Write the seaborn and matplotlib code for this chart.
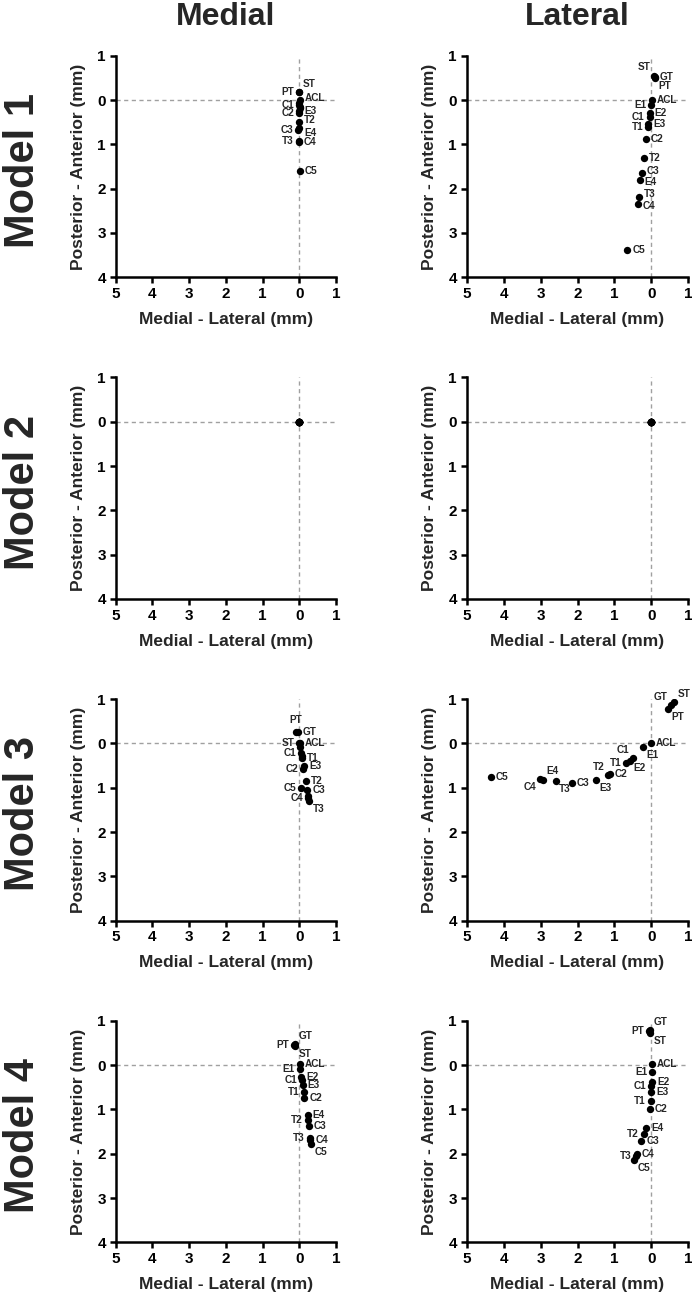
import matplotlib
matplotlib.use("Agg")
import matplotlib.pyplot as plt
from matplotlib.ticker import FuncFormatter
import seaborn as sns
import pandas as pd

# ---------------- data (mm); x: medial(-)/lateral(+), y: posterior(-)/anterior(+)
row_titles = ["Model 1", "Model 2", "Model 3", "Model 4"]
col_titles = ["Medial", "Lateral"]

m1_med_names = ["ST", "PT", "ACL", "E1", "C1", "E2", "E3", "T1", "C2", "T2", "E4", "C3", "T3", "C4", "C5"]
m1_med_x = [0.00, -0.02, 0.02, 0.00, 0.00, 0.02, 0.01, 0.00, -0.01, 0.00, 0.00, -0.03, -0.02, -0.01, 0.02]
m1_med_y = [0.17, 0.17, 0.00, -0.06, -0.12, -0.16, -0.19, -0.25, -0.30, -0.50, -0.64, -0.68, -0.92, -0.95, -1.60]

m1_lat_names = ["ST", "GT", "PT", "ACL", "E1", "E2", "C1", "E3", "T1", "C2", "T2", "C3", "E4", "T3", "C4", "C5"]
m1_lat_x = [0.07, 0.10, 0.09, 0.02, 0.00, -0.04, -0.05, -0.08, -0.09, -0.14, -0.21, -0.25, -0.31, -0.34, -0.37, -0.65]
m1_lat_y = [0.55, 0.53, 0.50, 0.00, -0.11, -0.30, -0.39, -0.55, -0.62, -0.87, -1.31, -1.65, -1.80, -2.18, -2.35, -3.38]

m2_names = ["ST", "GT", "PT", "ACL", "E1", "E2", "C1", "E3", "T1", "C2", "T2", "C3", "E4", "T3", "C4", "C5"]
m2_med_x = [0.0] * 16
m2_med_y = [0.0] * 16
m2_lat_x = [0.0] * 16
m2_lat_y = [0.0] * 16

m3_med_names = ["PT", "GT", "ST", "ACL", "E1", "C1", "E2", "T1", "E3", "C2", "T2", "C5", "C3", "E4", "C4", "T3"]
m3_med_x = [-0.10, -0.04, 0.00, 0.02, 0.01, 0.05, 0.07, 0.08, 0.13, 0.11, 0.18, 0.06, 0.22, 0.24, 0.25, 0.27]
m3_med_y = [0.26, 0.26, 0.02, 0.00, -0.08, -0.22, -0.28, -0.33, -0.52, -0.57, -0.85, -1.01, -1.06, -1.18, -1.24, -1.31]

m3_lat_names = ["PT", "GT", "ST", "ACL", "E1", "C1", "E2", "T1", "T2", "C2", "E3", "C3", "T3", "E4", "C4", "C5"]
m3_lat_x = [0.45, 0.52, 0.62, 0.00, -0.24, -0.51, -0.58, -0.69, -1.17, -1.13, -1.49, -2.16, -2.59, -2.94, -3.01, -4.34]
m3_lat_y = [0.78, 0.86, 0.93, 0.00, -0.09, -0.33, -0.39, -0.45, -0.72, -0.70, -0.82, -0.89, -0.86, -0.82, -0.81, -0.75]

m4_med_names = ["GT", "PT", "ST", "ACL", "E1", "E2", "C1", "E3", "T1", "C2", "E4", "T2", "C3", "T3", "C4", "C5"]
m4_med_x = [-0.12, -0.14, -0.12, 0.01, 0.01, 0.06, 0.07, 0.10, 0.13, 0.14, 0.23, 0.23, 0.26, 0.28, 0.30, 0.31]
m4_med_y = [0.47, 0.45, 0.43, 0.02, -0.08, -0.26, -0.34, -0.44, -0.60, -0.75, -1.13, -1.23, -1.38, -1.64, -1.70, -1.79]

m4_lat_names = ["GT", "PT", "ST", "ACL", "E1", "E2", "C1", "E3", "T1", "C2", "E4", "T2", "C3", "C4", "T3", "C5"]
m4_lat_x = [-0.04, -0.06, -0.04, 0.02, 0.02, 0.02, 0.00, 0.00, -0.02, -0.05, -0.14, -0.21, -0.27, -0.39, -0.41, -0.46]
m4_lat_y = [0.79, 0.76, 0.72, 0.02, -0.15, -0.38, -0.48, -0.60, -0.82, -1.00, -1.43, -1.56, -1.72, -2.00, -2.06, -2.14]

x_ticks = [-5, -4, -3, -2, -1, 0, 1]
y_ticks = [-4, -3, -2, -1, 0, 1]

# ---------------- label placement (style only): direction codes
place = {
    (0, 0): {"ST": "ur", "PT": "l", "ACL": "ru", "C1": "l", "E3": "rd", "C2": "l", "T2": "ru",
             "E4": "rd2", "C3": "l", "T3": "l", "C4": "r", "C5": "r"},
    (0, 1): {"ST": "ul", "GT": "r", "PT": "br", "ACL": "r", "E1": "l", "E2": "r", "C1": "l",
             "E3": "r", "T1": "l", "C2": "r", "T2": "r", "C3": "ru", "E4": "rd", "T3": "ru",
             "C4": "rd", "C5": "r"},
    (1, 0): {},
    (1, 1): {},
    (2, 0): {"PT": "u", "GT": "r", "ST": "l", "ACL": "r", "C1": "l", "T1": "r", "E3": "r",
             "C2": "l", "T2": "r", "C5": "l", "C3": "r", "C4": "l", "T3": "br"},
    (2, 1): {"PT": "br", "GT": "ul", "ST": "ur", "ACL": "r", "E1": "br", "C1": "ul", "E2": "br",
             "T1": "l", "T2": "ul", "C2": "r", "E3": "br", "C3": "r", "T3": "br", "E4": "ur",
             "C4": "bl", "C5": "r"},
    (3, 0): {"GT": "ur", "PT": "l", "ST": "br", "ACL": "r", "E1": "l", "E2": "r", "C1": "l",
             "E3": "r", "T1": "l", "C2": "r", "E4": "r", "T2": "l", "C3": "r", "T3": "l",
             "C4": "r", "C5": "br"},
    (3, 1): {"GT": "ur", "PT": "l", "ST": "br", "ACL": "r", "E1": "l", "E2": "r", "C1": "l",
             "E3": "r", "T1": "l", "C2": "r", "E4": "r", "T2": "l", "C3": "r", "C4": "r",
             "T3": "l", "C5": "br"},
}
offsets = {
    "r": ((3.5, 0), "left", "center"),
    "ru": ((3.5, 1.5), "left", "center"),
    "rd": ((3.5, -1.5), "left", "center"),
    "rd2": ((3.5, -3), "left", "center"),
    "l": ((-3.5, 0), "right", "center"),
    "u": ((0, 5), "center", "bottom"),
    "ur": ((2.5, 2.5), "left", "bottom"),
    "ul": ((-2.5, 2.5), "right", "bottom"),
    "br": ((2.5, -2), "left", "top"),
    "bl": ((-2.5, -2), "right", "top"),
}

panels = {
    (0, 0): (m1_med_names, m1_med_x, m1_med_y),
    (0, 1): (m1_lat_names, m1_lat_x, m1_lat_y),
    (1, 0): (m2_names, m2_med_x, m2_med_y),
    (1, 1): (m2_names, m2_lat_x, m2_lat_y),
    (2, 0): (m3_med_names, m3_med_x, m3_med_y),
    (2, 1): (m3_lat_names, m3_lat_x, m3_lat_y),
    (3, 0): (m4_med_names, m4_med_x, m4_med_y),
    (3, 1): (m4_lat_names, m4_lat_x, m4_lat_y),
}

# ---------------- style
sns.set_style("ticks")
plt.rcParams["font.family"] = ["Liberation Sans", "DejaVu Sans"]
plt.rcParams["font.weight"] = "bold"
plt.rcParams["axes.labelweight"] = "bold"

W, H = 692, 1300
fig = plt.figure(figsize=(W / 100, H / 100), dpi=100)

col_left_px = [115.7, 466.7]
col_width_px = [220.3, 221.6]
row_zero_px = [100 + 321.7 * i for i in range(4)]
unit_y_px = 44.3

fmt = FuncFormatter(lambda v, p: f"{abs(v):g}")

for (r, c), (names, xs, ys) in panels.items():
    top_px = row_zero_px[r] - unit_y_px
    bot_px = row_zero_px[r] + 4 * unit_y_px
    ax = fig.add_axes([col_left_px[c] / W, 1 - bot_px / H,
                       col_width_px[c] / W, (bot_px - top_px) / H])
    ax.axhline(0, color="#a0a0a0", lw=1.0, ls=(0, (3, 2.5)), zorder=1)
    ax.axvline(0, color="#a0a0a0", lw=1.0, ls=(0, (3, 2.5)), zorder=1)
    df = pd.DataFrame({"name": names, "x": xs, "y": ys})
    sns.scatterplot(data=df, x="x", y="y", ax=ax, color="black", s=28,
                    linewidth=0, zorder=3, legend=False)
    for n, xv, yv in zip(names, xs, ys):
        code = place[(r, c)].get(n)
        if code is None:
            continue
        off, ha, va = offsets[code]
        ax.annotate(n, (xv, yv), xytext=off, textcoords="offset points",
                    ha=ha, va=va, fontsize=7.2, fontweight="bold", zorder=4)
    ax.set_xlim(-5, 1)
    ax.set_ylim(-4, 1)
    ax.set_xticks(x_ticks)
    ax.set_yticks(y_ticks)
    ax.xaxis.set_major_formatter(fmt)
    ax.yaxis.set_major_formatter(fmt)
    for s in ("top", "right"):
        ax.spines[s].set_visible(False)
    for s in ("left", "bottom"):
        ax.spines[s].set_linewidth(1.8)
        ax.spines[s].set_color("black")
        ax.spines[s].set_capstyle("projecting")
    ax.tick_params(axis="both", direction="out", length=4.5, width=1.8,
                   labelsize=11, colors="black", pad=2.5)
    for lab in ax.get_xticklabels() + ax.get_yticklabels():
        lab.set_fontweight("bold")
    ax.set_xlabel("Medial - Lateral (mm)", fontsize=12.5, fontweight="bold", labelpad=8)
    ax.set_ylabel("Posterior - Anterior (mm)", fontsize=12.5, fontweight="bold", labelpad=8)
    ax.patch.set_alpha(0)

    if r == 0:
        cx = (col_left_px[c] + col_width_px[c] / 2) / W
        fig.text(cx, 1 - 17 / H, col_titles[c], ha="center", va="center",
                 fontsize=23, fontweight="bold")
    if c == 0:
        mid_px = (top_px + bot_px) / 2
        fig.text(23 / W, 1 - (mid_px + 4) / H, row_titles[r], rotation=90,
                 ha="center", va="center", fontsize=30, fontweight="bold")

fig.savefig("out.png", dpi=100, facecolor="white")
